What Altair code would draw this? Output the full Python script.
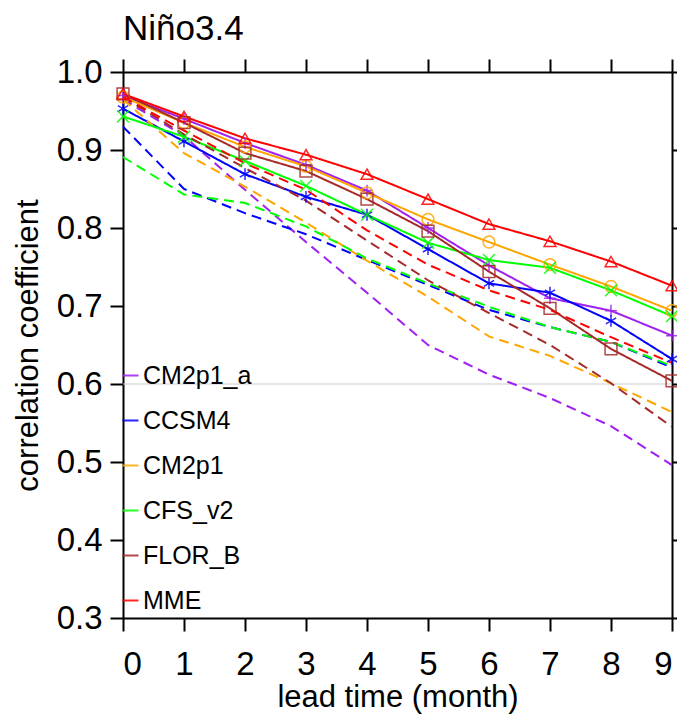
import altair as alt
import pandas as pd

leads = list(range(10))
models = ["CM2p1_a", "CCSM4", "CM2p1", "CFS_v2", "FLOR_B", "MME"]
colors = ["#A020F0", "#0000FF", "#FFA500", "#00FF00", "#A52A2A", "#FF0000"]

# solid lines (with markers)
solid_CM2p1_a = [0.970, 0.940, 0.909, 0.881, 0.848, 0.800, 0.752, 0.710, 0.694, 0.662]
solid_CCSM4 = [0.953, 0.911, 0.869, 0.840, 0.817, 0.773, 0.729, 0.717, 0.681, 0.632]
solid_CM2p1 = [0.968, 0.935, 0.904, 0.879, 0.845, 0.811, 0.782, 0.753, 0.725, 0.694]
solid_CFS_v2 = [0.943, 0.917, 0.886, 0.854, 0.817, 0.781, 0.759, 0.749, 0.720, 0.687]
solid_FLOR_B = [0.972, 0.935, 0.896, 0.873, 0.837, 0.796, 0.744, 0.697, 0.645, 0.604]
solid_MME = [0.972, 0.943, 0.915, 0.894, 0.869, 0.837, 0.805, 0.783, 0.757, 0.726]

# dashed lines (no markers)
dashed_CM2p1_a = [0.965, 0.918, 0.849, 0.782, 0.717, 0.650, 0.612, 0.582, 0.546, 0.496]
dashed_CCSM4 = [0.930, 0.850, 0.819, 0.792, 0.759, 0.727, 0.695, 0.673, 0.654, 0.621]
dashed_CM2p1 = [0.965, 0.896, 0.853, 0.807, 0.758, 0.712, 0.661, 0.636, 0.601, 0.564]
dashed_CFS_v2 = [0.891, 0.843, 0.832, 0.802, 0.761, 0.729, 0.699, 0.673, 0.654, 0.623]
dashed_FLOR_B = [0.968, 0.920, 0.877, 0.835, 0.784, 0.733, 0.691, 0.650, 0.601, 0.545]
dashed_MME = [0.968, 0.925, 0.883, 0.849, 0.797, 0.753, 0.720, 0.695, 0.660, 0.627]

solid = {"CM2p1_a": solid_CM2p1_a, "CCSM4": solid_CCSM4, "CM2p1": solid_CM2p1,
         "CFS_v2": solid_CFS_v2, "FLOR_B": solid_FLOR_B, "MME": solid_MME}
dashed = {"CM2p1_a": dashed_CM2p1_a, "CCSM4": dashed_CCSM4, "CM2p1": dashed_CM2p1,
          "CFS_v2": dashed_CFS_v2, "FLOR_B": dashed_FLOR_B, "MME": dashed_MME}

x_ticks = list(range(10))
y_ticks = [0.3, 0.4, 0.5, 0.6, 0.7, 0.8, 0.9, 1.0]
ref_value = [0.6]
title_text = "Niño3.4"

shape_paths = {
    "CM2p1_a": "M-1,0H1M0,-1V1",
    "CCSM4": "M0,-1V1M-0.87,-0.5L0.87,0.5M-0.87,0.5L0.87,-0.5",
    "CM2p1": "circle",
    "CFS_v2": "M-1,-1L1,1M-1,1L1,-1",
    "FLOR_B": "square",
    "MME": "triangle-up",
}
color_of = dict(zip(models, colors))

rows = []
for m in models:
    for kind, src in (("dashed", dashed), ("solid", solid)):
        for l, v in zip(leads, src[m]):
            rows.append({"model": m, "kind": kind, "lead": l, "r": v,
                         "col": color_of[m], "shp": shape_paths[m]})
df = pd.DataFrame(rows)
df_solid = df[df["kind"] == "solid"]

FONT = "Liberation Sans"
xscale = alt.Scale(domain=[0, 9], nice=False, zero=False)
yscale = alt.Scale(domain=[0.3, 1.0], nice=False, zero=False)
cscale = alt.Scale(domain=models, range=colors)

axis_common = dict(domainColor="black", domainWidth=2, tickColor="black", tickWidth=2,
                   tickSize=13, grid=False, labelFont=FONT, labelFontSize=33,
                   labelColor="black", titleFont=FONT, titleFontSize=31,
                   titleFontWeight="normal", titleColor="black")

lines = alt.Chart(df).mark_line(strokeWidth=2).encode(
    x=alt.X("lead:Q", scale=xscale,
            axis=alt.Axis(orient="bottom", values=x_ticks, format="d",
                          title="lead time (month)", labelPadding=17, titlePadding=1,
                          **axis_common)),
    y=alt.Y("r:Q", scale=yscale,
            axis=alt.Axis(orient="left", values=y_ticks, format=".1f",
                          title="correlation coefficient", labelPadding=8,
                          titlePadding=12, **axis_common)),
    color=alt.Color("model:N", scale=cscale,
                    legend=alt.Legend(orient="none", legendX=-5, legendY=291,
                                      title=None, symbolType="stroke", symbolSize=256,
                                      symbolStrokeWidth=2, labelFont=FONT,
                                      labelFontSize=25, labelColor="black",
                                      labelOffset=0, rowPadding=19, padding=0,
                                      direction="vertical", labelLimit=300)),
    strokeDash=alt.StrokeDash("kind:N",
                              scale=alt.Scale(domain=["solid", "dashed"],
                                              range=[[1, 0], [10, 6]]),
                              legend=None),
    detail="kind:N",
)

points = alt.Chart(df_solid).mark_point(filled=False, size=140, strokeWidth=1.5,
                                        opacity=0.85).encode(
    x=alt.X("lead:Q", scale=xscale,
            axis=alt.Axis(orient="top", values=x_ticks, labels=False, title=None,
                          **axis_common)),
    y=alt.Y("r:Q", scale=yscale, axis=None),
    color=alt.Color("col:N", scale=None),
    shape=alt.Shape("shp:N", scale=None),
)

refline = alt.Chart(pd.DataFrame({"r": ref_value})).mark_rule(
    color="#cccccc", strokeWidth=1).encode(
    y=alt.Y("r:Q", scale=yscale,
            axis=alt.Axis(orient="right", values=y_ticks, labels=False, title=None,
                          **axis_common)),
)

title = alt.Chart(pd.DataFrame({"t": [title_text]})).mark_text(
    font=FONT, fontSize=35, align="left", baseline="alphabetic", color="black"
).encode(x=alt.value(0), y=alt.value(-32), text="t:N")

chart = alt.layer(refline, lines, points, title).resolve_axis(
    x="independent", y="independent"
).properties(
    width=549, height=546,
    autosize=alt.AutoSizeParams(type="none"),
    padding={"left": 115, "top": 64, "right": 5, "bottom": 100},
).configure_view(stroke=None).configure(background="white")

chart.save("out.html", embed_options={"renderer": "svg", "actions": False})
